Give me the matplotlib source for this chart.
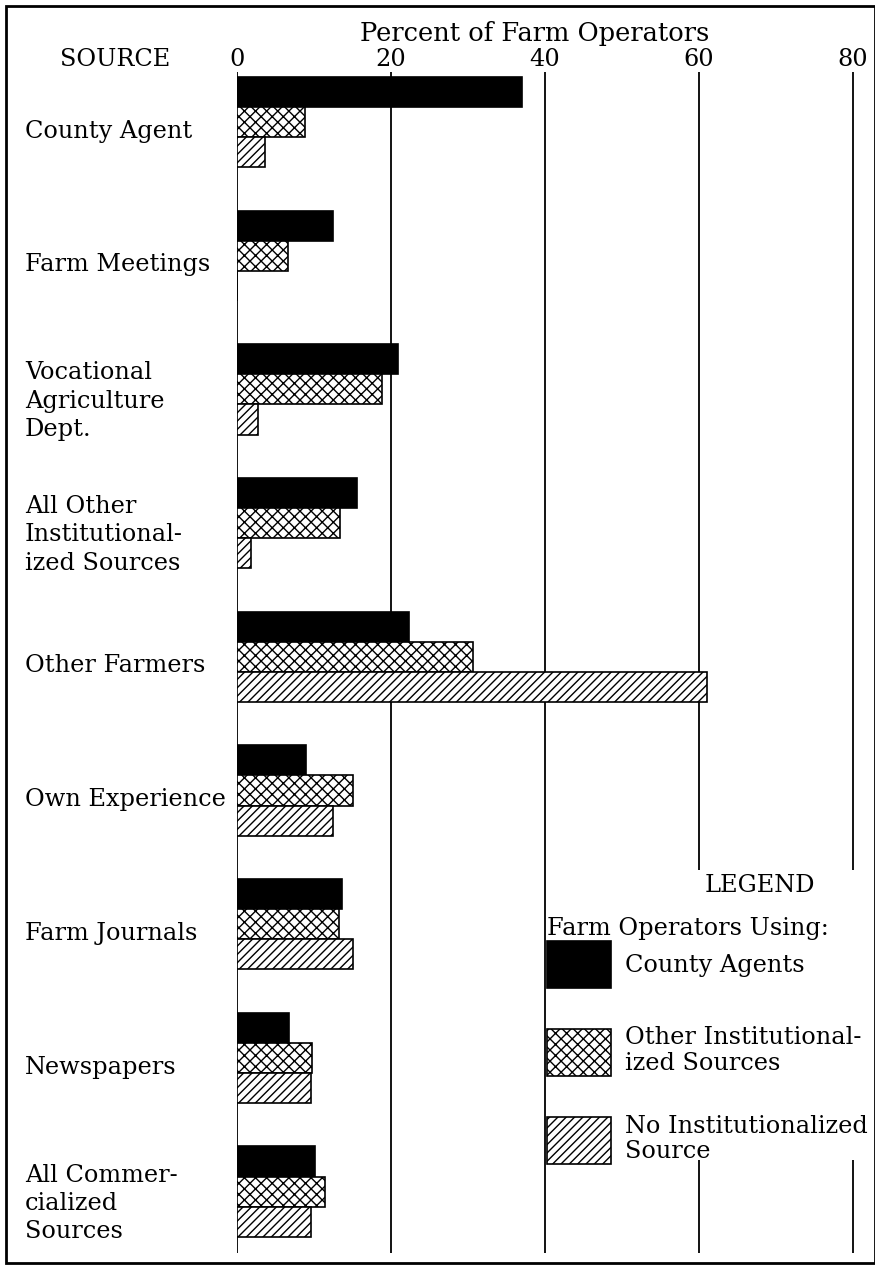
import numpy as np
import matplotlib
matplotlib.use('Agg')
import matplotlib.pyplot as plt
from matplotlib.patches import Rectangle

# values (percent of farm operators)
sources = ['County Agent', 'Farm Meetings', 'Vocational\nAgriculture\nDept.',
           'All Other\nInstitutional-\nized Sources', 'Other Farmers',
           'Own Experience', 'Farm Journals', 'Newspapers',
           'All Commer-\ncialized\nSources']
county_agents = [37.0, 12.5, 20.9, 15.6, 22.4, 8.9, 13.7, 6.8, 10.1]
other_inst = [8.8, 6.6, 18.8, 13.4, 30.7, 15.1, 13.2, 9.7, 11.4]
no_inst = [3.6, 0.0, 2.7, 1.8, 61.0, 12.5, 15.1, 9.6, 9.6]
series_labels = ['County Agents', 'Other Institutional-\nized Sources',
                 'No Institutionalized\nSource']
ticks = [0, 20, 40, 60, 80]

plt.rcParams['font.family'] = ['DejaVu Serif']
plt.rcParams['hatch.linewidth'] = 1.0
FS = 17.3
fpx = FS / 72 * 100   # font size in pixels

W, H = 875, 1267
fig = plt.figure(figsize=(W / 100, H / 100), dpi=100)

# axes placed so that 0% sits at x=237px and 80% at x=853px
px_per_unit = (853 - 237) / 80
x_max = (870 - 237) / px_per_unit
top_px, bot_px = 72, 1253
first_c, pitch = 122, 133.7
ax = fig.add_axes([237 / W, 1 - bot_px / H, (870 - 237) / W, (bot_px - top_px) / H])
ax.set_xlim(0, x_max)
ax.set_ylim((bot_px - first_c) / pitch, (top_px - first_c) / pitch)

y = np.arange(len(sources))
bh = 0.225
common = dict(height=bh, edgecolor='black', linewidth=1.2, zorder=3)
b1 = ax.barh(y - bh, county_agents, color='black', **common)
b2 = ax.barh(y, other_inst, color='white', hatch='xxx', **common)
b3 = ax.barh(y + bh, no_inst, color='white', hatch='////', **common)

for s in ax.spines.values():
    s.set_visible(False)
ax.set_xticks(ticks)
ax.xaxis.tick_top()
ax.tick_params(axis='x', length=0, pad=1, labelsize=FS)
ax.grid(axis='x', color='black', linewidth=1.3, zorder=1)
ax.set_axisbelow(True)

# category labels, left aligned at the page margin
ax.set_yticks(y + 0.05)
ax.set_yticklabels(sources, fontsize=FS, ha='left', linespacing=1.3)
ax.tick_params(axis='y', length=0, pad=(237 - 25) * 0.72)

fig.text(60 / W, 1 - 60 / H, 'SOURCE', fontsize=FS, va='center', ha='left')
fig.text(535 / W, 1 - 33 / H, 'Percent of Farm Operators', fontsize=18.5,
         va='center', ha='center')

# white patch behind the legend breaks the 60 and 80 lines
fig.add_artist(Rectangle((549 / W, 1 - 1160 / H), (873 - 549) / W, (1160 - 870) / H,
                         transform=fig.transFigure, facecolor='white',
                         edgecolor='none', zorder=1.5))
fig.text(760 / W, 1 - 886 / H, 'LEGEND', fontsize=FS, va='center', ha='center')
fig.text(547 / W, 1 - 928 / H, 'Farm Operators Using:', fontsize=FS,
         va='center', ha='left')
hh = (47 / fpx - 0.245) / 0.65
leg = fig.legend([b1, b2, b3], series_labels,
                 loc='upper left', bbox_to_anchor=(535 / W, 1 - 929 / H),
                 frameon=False, fontsize=FS, borderpad=0,
                 handlelength=64 / fpx, handleheight=hh, handletextpad=0.6,
                 labelspacing=1.6)
for t in leg.get_texts():
    t.set_linespacing(1.15)

# outer border
fig.add_artist(Rectangle((6 / W, 4 / H), (W - 6) / W, (H - 10) / H,
                         transform=fig.transFigure, fill=False,
                         edgecolor='black', linewidth=2))

fig.savefig('out.png', dpi=100)
